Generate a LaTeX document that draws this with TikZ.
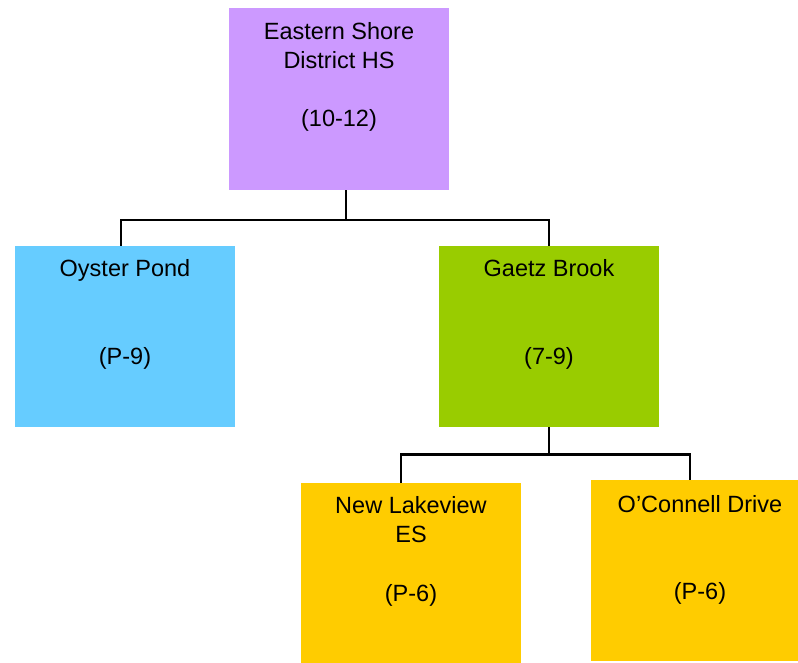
\documentclass[tikz,border=0pt]{standalone}
\usepackage{fontspec}
\setmainfont{Liberation Sans}
\definecolor{lavender}{HTML}{CC99FF}
\definecolor{skyblue}{HTML}{66CCFF}
\definecolor{leafgreen}{HTML}{99CC00}
\definecolor{amber}{HTML}{FFCC00}
\tikzset{
  school/.style={rectangle, inner sep=0pt, minimum width=220pt},
  schooltext/.style={anchor=north, inner sep=0pt, align=center,
    font={\fontsize{23.5}{29.3}\selectfont}},
  link/.style={line width=2.6pt}
}
\begin{document}
\begin{tikzpicture}[x=1pt,y=-1pt]
      \clip (0,0) rectangle (798,663);
      % boxes
      \node[school, fill=lavender, minimum height=182pt] (esd) at (339,99) {};
      \node[school, fill=skyblue, minimum height=181pt] (op) at (125,336.5) {};
      \node[school, fill=leafgreen, minimum height=181pt] (gb) at (549,336.5) {};
      \node[school, fill=amber, minimum height=180pt] (nl) at (411,573) {};
      \node[school, fill=amber, minimum height=181pt] (oc) at (701,570.5) {};
      % texts
      \node[schooltext] (esd-t) at ([yshift=-14pt]esd.north) {Eastern Shore\\District HS\\[29.3pt](10-12)};
      \node[schooltext] (op-t) at ([yshift=-13.5pt]op.north) {Oyster Pond\\[58.6pt](P-9)};
      \node[schooltext] (gb-t) at ([yshift=-13.5pt]gb.north) {Gaetz Brook\\[58.6pt](7-9)};
      \node[schooltext] (nl-t) at ([yshift=-13.5pt]nl.north) {New Lakeview\\ES\\[29.3pt](P-6)};
      \node[schooltext] (oc-t) at ([yshift=-15pt,xshift=-1pt]oc.north) {O’Connell Drive\\[58.6pt](P-6)};
      % links
      \draw[link] ([xshift=7pt]esd.south) -- ++(0,30) coordinate (j1);
      \draw[link] ([xshift=-4pt]op.north) |- (j1) -| (gb.north);
      \draw[link] (gb.south) -- ++(0,27) coordinate (j2);
      \draw[link] ([xshift=-10pt]nl.north) |- (j2) -| ([xshift=-11pt]oc.north);
    \end{tikzpicture}
\end{document}
